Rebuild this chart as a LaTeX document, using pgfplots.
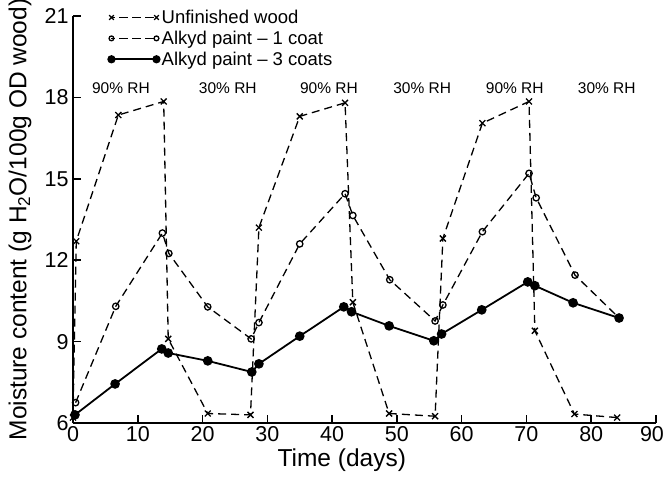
\documentclass[border=0pt]{standalone}
\usepackage{fontspec}
\setmainfont{Liberation Sans}
\usepackage{pgfplots}
\pgfplotsset{compat=1.18}

\begin{document}
\begin{tikzpicture}
\begin{axis}[
    name=ax,
    scale only axis,
    width=583pt, height=407pt,
    xmin=0, xmax=90,
    ymin=6, ymax=21,
    axis x line*=bottom,
    axis y line*=left,
    xtick={0,10,...,90},
    xticklabels={0,10,20,30,40,50,60,70,80,90\hspace*{8pt}},
    ytick={6,9,...,21},
    tick align=inside,
    major tick length=8pt,
    axis line style={line width=1.6pt},
    tick style={line width=1.6pt, black},
    /pgf/number format/assume math mode=true,
    ticklabel style={font=\fontsize{21.5}{23}\selectfont},
    yticklabel style={xshift=-1pt},
    xlabel={Time (days)},
    ylabel={Moisture content (g H\textsubscript{2}O/100g OD wood)},
    every axis x label/.style={at={(rel axis cs:0.461,-0.091)}, anchor=center,
        font=\fontsize{24.5}{26}\selectfont},
    every axis y label/.style={at={(rel axis cs:-0.091,0.5)}, rotate=90, anchor=center,
        font=\fontsize{24.5}{26}\selectfont},
    legend style={draw=none, fill=none, at={(rel axis cs:0.055,1.025)}, anchor=north west,
        font=\fontsize{18.5}{20}\selectfont, row sep=2pt},
    legend cell align=left,
    legend image code/.code={\draw[#1] plot coordinates {(0pt,0pt) (45pt,0pt)};},
]

% unfinished wood
\addplot[black, line width=1.3pt, dash pattern=on 8pt off 5pt,
    mark=x, mark size=4.2pt, mark options={solid, line width=1.3pt},
    legend image post style={dash pattern=on 9pt off 4pt, dash phase=-8pt, mark size=3.3pt}]
coordinates {
(0,6.2)(0.5,12.7)(7,17.35)(14,17.85)(14.7,9.1)(20.8,6.35)(27.4,6.3)
(28.7,13.2)(35,17.3)(42,17.8)(43.2,10.45)(48.8,6.35)(55.9,6.25)
(57.1,12.8)(63.2,17.05)(70.4,17.85)(71.3,9.4)(77.4,6.33)(84,6.2)
};
\addlegendentry{Unfinished wood}

% alkyd paint, 1 coat
\addplot[black, line width=1.3pt, dash pattern=on 8pt off 5pt,
    mark=o, mark size=3.2pt, mark options={solid, fill=white, line width=1.3pt},
    legend image post style={dash pattern=on 9pt off 4pt, dash phase=-8pt, mark size=2.4pt}]
coordinates {
(0.4,6.75)(6.6,10.3)(13.8,13.0)(14.8,12.25)(20.8,10.28)(27.5,9.1)
(28.7,9.7)(35,12.6)(42,14.45)(43.2,13.65)(48.9,11.28)(55.9,9.76)
(57.1,10.35)(63.2,13.05)(70.4,15.2)(71.5,14.3)(77.5,11.45)(84.3,9.87)
};
\addlegendentry{Alkyd paint -- 1 coat}

% alkyd paint, 3 coats
\addplot[black, line width=1.8pt, solid,
    mark=*, mark size=3.9pt,
    legend image post style={mark size=3.2pt}]
coordinates {
(0.3,6.3)(6.5,7.44)(13.7,8.73)(14.7,8.58)(20.8,8.29)(27.6,7.88)
(28.7,8.18)(35,9.2)(41.8,10.28)(43,10.1)(48.8,9.58)(55.7,9.03)
(56.9,9.28)(63.1,10.17)(70.2,11.2)(71.3,11.06)(77.2,10.43)(84.3,9.87)
};
\addlegendentry{Alkyd paint -- 3 coats}

\node[font=\fontsize{15.5}{17}\selectfont] at (axis cs:7.4,18.35) {90\% RH};
\node[font=\fontsize{15.5}{17}\selectfont] at (axis cs:23.9,18.35) {30\% RH};
\node[font=\fontsize{15.5}{17}\selectfont] at (axis cs:39.5,18.35) {90\% RH};
\node[font=\fontsize{15.5}{17}\selectfont] at (axis cs:53.9,18.35) {30\% RH};
\node[font=\fontsize{15.5}{17}\selectfont] at (axis cs:68.2,18.35) {90\% RH};
\node[font=\fontsize{15.5}{17}\selectfont] at (axis cs:82.4,18.35) {30\% RH};
\end{axis}
\pgfresetboundingbox
\path[use as bounding box] ([shift={(-73pt,-53pt)}]ax.south west) rectangle ([shift={(9pt,16pt)}]ax.north east);
\end{tikzpicture}
\end{document}
